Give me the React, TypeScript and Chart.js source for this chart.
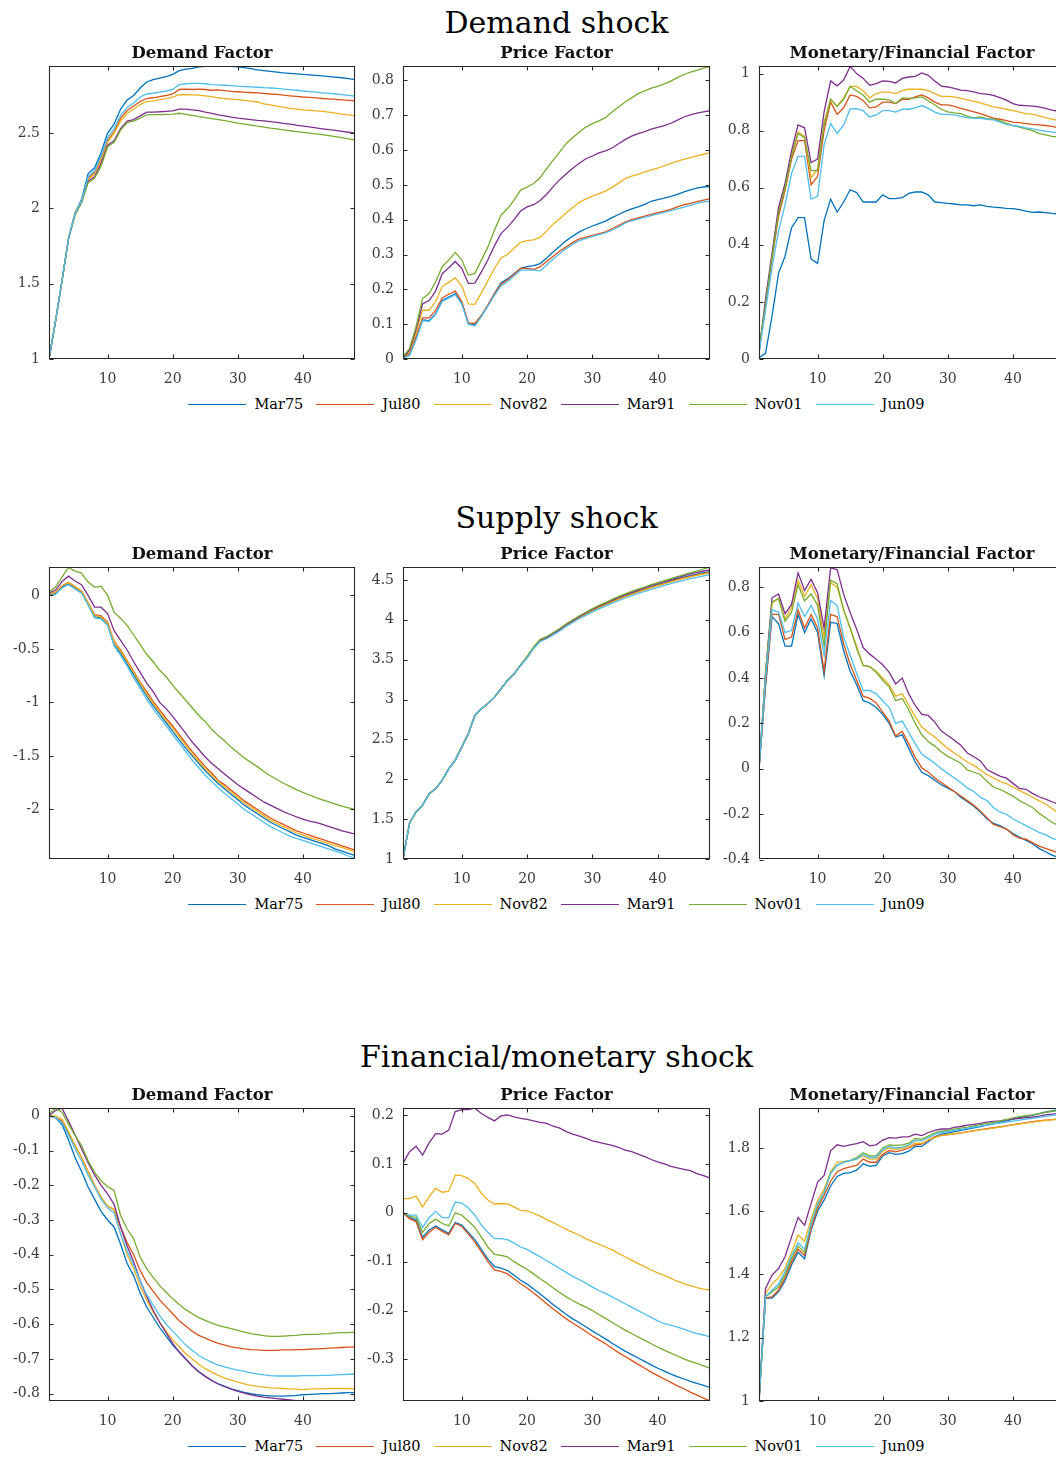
import React, { useEffect, useRef } from "react";
import { Chart, registerables } from "chart.js";

Chart.register(...registerables);

// ---------------------------------------------------------------------------
// Data: impulse responses over a 48-month horizon, one list per episode.
// ---------------------------------------------------------------------------
const horizon: number[] = [
  1, 2, 3, 4, 5, 6, 7, 8, 9, 10, 11, 12, 13, 14, 15, 16, 17, 18, 19, 20, 21, 22, 23, 24,
  25, 26, 27, 28, 29, 30, 31, 32, 33, 34, 35, 36, 37, 38, 39, 40, 41, 42, 43, 44, 45, 46, 47, 48,
];

const episodes = ["Mar75", "Jul80", "Nov82", "Mar91", "Nov01", "Jun09"];
const episodeColors = ["#0072BD", "#D95319", "#EDB120", "#7E2F8E", "#77AC30", "#4DBEEE"];

const xTicks = [10, 20, 30, 40];

// Demand shock -> Demand factor (Mar75, Jul80, Nov82, Mar91, Nov01, Jun09)
const demandShockDemand: number[][] = [
  [1.0, 1.25, 1.52, 1.8, 1.97, 2.06, 2.23, 2.27, 2.37, 2.5, 2.56, 2.66,
   2.72, 2.75, 2.8, 2.84, 2.855, 2.865, 2.875, 2.89, 2.915, 2.925, 2.93, 2.94,
   2.944, 2.945, 2.945, 2.944, 2.943, 2.94, 2.935, 2.928, 2.92, 2.915, 2.91, 2.905,
   2.9, 2.897, 2.894, 2.89, 2.887, 2.884, 2.88, 2.876, 2.872, 2.868, 2.862, 2.856],
  [1.0, 1.25, 1.52, 1.8, 1.97, 2.05, 2.2, 2.24, 2.33, 2.45, 2.51, 2.6,
   2.65, 2.68, 2.71, 2.73, 2.735, 2.742, 2.75, 2.76, 2.79, 2.792, 2.79, 2.792,
   2.79, 2.785, 2.787, 2.782, 2.778, 2.775, 2.772, 2.77, 2.767, 2.764, 2.76, 2.757,
   2.752, 2.748, 2.744, 2.74, 2.737, 2.734, 2.73, 2.727, 2.724, 2.721, 2.718, 2.715],
  [1.0, 1.25, 1.52, 1.8, 1.97, 2.05, 2.19, 2.23, 2.32, 2.44, 2.5, 2.58,
   2.63, 2.66, 2.69, 2.71, 2.715, 2.722, 2.73, 2.74, 2.755, 2.755, 2.754, 2.752,
   2.748, 2.742, 2.735, 2.73, 2.726, 2.722, 2.718, 2.713, 2.707, 2.695, 2.688, 2.68,
   2.673, 2.665, 2.66, 2.655, 2.652, 2.648, 2.645, 2.64, 2.633, 2.627, 2.621, 2.615],
  [1.0, 1.25, 1.52, 1.8, 1.96, 2.04, 2.18, 2.21, 2.3, 2.42, 2.45, 2.53,
   2.58, 2.59, 2.615, 2.64, 2.64, 2.642, 2.645, 2.648, 2.66, 2.66, 2.655, 2.65,
   2.64, 2.632, 2.622, 2.615, 2.607, 2.6, 2.595, 2.59, 2.585, 2.581, 2.577, 2.571,
   2.565, 2.56, 2.553, 2.547, 2.541, 2.535, 2.529, 2.523, 2.518, 2.512, 2.506, 2.5],
  [1.0, 1.25, 1.52, 1.8, 1.96, 2.04, 2.17, 2.2, 2.28, 2.41, 2.44, 2.52,
   2.57, 2.58, 2.6, 2.622, 2.623, 2.623, 2.625, 2.627, 2.632, 2.625, 2.618, 2.61,
   2.603, 2.597, 2.59, 2.583, 2.575, 2.567, 2.56, 2.553, 2.546, 2.54, 2.533, 2.528,
   2.522, 2.516, 2.51, 2.505, 2.5, 2.495, 2.49, 2.484, 2.477, 2.47, 2.462, 2.455],
  [1.0, 1.25, 1.52, 1.8, 1.97, 2.05, 2.21, 2.25, 2.35, 2.47, 2.53, 2.62,
   2.67, 2.7, 2.74, 2.76, 2.765, 2.772, 2.78, 2.79, 2.822, 2.828, 2.83, 2.83,
   2.828, 2.822, 2.82, 2.818, 2.815, 2.812, 2.81, 2.808, 2.805, 2.802, 2.8, 2.797,
   2.793, 2.789, 2.785, 2.78, 2.776, 2.772, 2.768, 2.764, 2.76, 2.756, 2.751, 2.746],
];

// Demand shock -> Price factor
const demandShockPrice: number[][] = [
  [0.003, 0.012, 0.06, 0.112, 0.11, 0.13, 0.168, 0.178, 0.188, 0.16, 0.102, 0.098,
   0.125, 0.155, 0.188, 0.218, 0.23, 0.245, 0.26, 0.265, 0.268, 0.274, 0.29, 0.308,
   0.324, 0.34, 0.353, 0.365, 0.374, 0.382, 0.389, 0.396, 0.406, 0.415, 0.424, 0.431,
   0.437, 0.444, 0.453, 0.458, 0.462, 0.467, 0.473, 0.48, 0.486, 0.491, 0.494, 0.495],
  [0.005, 0.015, 0.065, 0.118, 0.118, 0.14, 0.175, 0.186, 0.195, 0.165, 0.104, 0.102,
   0.125, 0.155, 0.187, 0.215, 0.227, 0.243, 0.26, 0.26, 0.257, 0.265, 0.28, 0.295,
   0.31, 0.322, 0.335, 0.345, 0.35, 0.355, 0.36, 0.365, 0.374, 0.383, 0.393, 0.4,
   0.405, 0.41, 0.415, 0.42, 0.425, 0.43, 0.437, 0.443, 0.447, 0.452, 0.456, 0.46],
  [0.005, 0.02, 0.075, 0.14, 0.14, 0.165, 0.208, 0.22, 0.233, 0.21, 0.158, 0.157,
   0.19, 0.225, 0.26, 0.29, 0.3, 0.318, 0.335, 0.34, 0.342, 0.35, 0.368, 0.388,
   0.403, 0.42, 0.435, 0.45, 0.46, 0.468, 0.475, 0.482, 0.493, 0.505, 0.518, 0.525,
   0.53, 0.537, 0.543, 0.548, 0.555, 0.562, 0.568, 0.573, 0.578, 0.583, 0.588, 0.592],
  [0.005, 0.025, 0.085, 0.158, 0.168, 0.195, 0.245, 0.262, 0.28, 0.26, 0.217, 0.218,
   0.25, 0.285, 0.325, 0.36, 0.378, 0.4, 0.425, 0.437, 0.443, 0.455, 0.473, 0.495,
   0.515, 0.532, 0.548, 0.562, 0.575, 0.583, 0.592, 0.598, 0.606, 0.618, 0.63, 0.64,
   0.647, 0.653, 0.66, 0.665, 0.67, 0.677, 0.686, 0.695, 0.701, 0.706, 0.71, 0.713],
  [0.007, 0.03, 0.093, 0.174, 0.188, 0.222, 0.265, 0.284, 0.306, 0.284, 0.241, 0.246,
   0.284, 0.322, 0.37, 0.413, 0.432, 0.456, 0.485, 0.494, 0.504, 0.521, 0.547, 0.571,
   0.595, 0.619, 0.636, 0.652, 0.666, 0.676, 0.684, 0.693, 0.709, 0.724, 0.738, 0.75,
   0.762, 0.77, 0.778, 0.783, 0.79, 0.798, 0.808, 0.817, 0.824, 0.829, 0.835, 0.84],
  [0.002, 0.01, 0.055, 0.11, 0.108, 0.128, 0.165, 0.175, 0.185, 0.158, 0.1, 0.095,
   0.122, 0.152, 0.183, 0.21, 0.222, 0.238, 0.255, 0.255, 0.255, 0.253, 0.27, 0.287,
   0.303, 0.317, 0.33, 0.34, 0.346, 0.352, 0.357, 0.362, 0.37, 0.379, 0.39, 0.397,
   0.402, 0.407, 0.412, 0.417, 0.421, 0.426, 0.431, 0.436, 0.441, 0.447, 0.451, 0.453],
];

// Demand shock -> Monetary/Financial factor
const demandShockMonetary: number[][] = [
  [0.005, 0.02, 0.15, 0.3, 0.36, 0.46, 0.495, 0.495, 0.35, 0.335, 0.485, 0.56,
   0.515, 0.55, 0.593, 0.583, 0.55, 0.55, 0.55, 0.575, 0.562, 0.562, 0.565, 0.58,
   0.585, 0.585, 0.575, 0.55, 0.548, 0.545, 0.543, 0.54, 0.54, 0.537, 0.54, 0.535,
   0.532, 0.53, 0.528, 0.527, 0.523, 0.518, 0.514, 0.515, 0.513, 0.51, 0.508, 0.506],
  [0.03, 0.19, 0.35, 0.5, 0.59, 0.7, 0.765, 0.765, 0.61, 0.64, 0.8, 0.9,
   0.857, 0.88, 0.925, 0.92, 0.905, 0.88, 0.883, 0.9, 0.9, 0.895, 0.91, 0.91,
   0.918, 0.925, 0.915, 0.9, 0.89, 0.89, 0.885, 0.878, 0.872, 0.866, 0.86, 0.852,
   0.844, 0.84, 0.835, 0.83, 0.828, 0.825, 0.822, 0.82, 0.818, 0.815, 0.81, 0.806],
  [0.03, 0.2, 0.36, 0.52, 0.6, 0.715, 0.795, 0.78, 0.635, 0.665, 0.83, 0.91,
   0.885, 0.915, 0.955, 0.955, 0.94, 0.915, 0.93, 0.935, 0.935, 0.93, 0.94, 0.945,
   0.945, 0.945, 0.94, 0.93, 0.92, 0.92, 0.918, 0.913, 0.908, 0.903, 0.897, 0.89,
   0.883, 0.88, 0.875, 0.87, 0.865, 0.86, 0.858, 0.852, 0.846, 0.84, 0.835, 0.83],
  [0.02, 0.21, 0.37, 0.53, 0.615, 0.73, 0.82, 0.81, 0.688, 0.7, 0.866, 0.974,
   0.957, 0.977, 1.025, 1.0, 0.983, 0.959, 0.965, 0.974, 0.973, 0.967, 0.983, 0.988,
   0.99, 1.002, 0.994, 0.974, 0.956, 0.953, 0.948, 0.942, 0.94, 0.936, 0.93, 0.928,
   0.924, 0.916, 0.907, 0.895, 0.889, 0.888, 0.886, 0.883, 0.878, 0.872, 0.868, 0.864],
  [0.03, 0.19, 0.36, 0.51, 0.6, 0.71, 0.79, 0.775, 0.66, 0.66, 0.82, 0.91,
   0.885, 0.91, 0.955, 0.94, 0.925, 0.9, 0.91, 0.91, 0.908, 0.895, 0.915, 0.913,
   0.915, 0.918, 0.905, 0.89, 0.875, 0.866, 0.862, 0.86, 0.85, 0.845, 0.848, 0.842,
   0.84, 0.835, 0.826, 0.818, 0.812, 0.806, 0.8, 0.79, 0.785, 0.78, 0.777, 0.774],
  [0.02, 0.17, 0.32, 0.45, 0.54, 0.65, 0.71, 0.71, 0.56, 0.57, 0.75, 0.825,
   0.79, 0.82, 0.876, 0.877, 0.87, 0.848, 0.855, 0.87, 0.87, 0.865, 0.875, 0.875,
   0.88, 0.888, 0.878, 0.865, 0.857, 0.857, 0.855, 0.85, 0.846, 0.843, 0.843, 0.84,
   0.838, 0.83, 0.822, 0.818, 0.815, 0.81, 0.806, 0.802, 0.798, 0.795, 0.792, 0.788],
];

// Supply shock -> Demand factor
const supplyShockDemand: number[][] = [
  [0.0, 0.02, 0.08, 0.11, 0.07, 0.03, -0.08, -0.2, -0.21, -0.27, -0.46, -0.54,
   -0.64, -0.74, -0.84, -0.94, -1.03, -1.11, -1.19, -1.27, -1.35, -1.43, -1.5, -1.57,
   -1.64, -1.7, -1.76, -1.81, -1.86, -1.91, -1.96, -2.0, -2.04, -2.08, -2.12, -2.15,
   -2.18, -2.21, -2.24, -2.26, -2.28, -2.3, -2.32, -2.34, -2.37, -2.39, -2.41, -2.43],
  [0.01, 0.03, 0.09, 0.12, 0.08, 0.04, -0.07, -0.18, -0.19, -0.25, -0.43, -0.51,
   -0.61, -0.71, -0.81, -0.9, -0.99, -1.07, -1.15, -1.22, -1.3, -1.38, -1.46, -1.53,
   -1.6, -1.66, -1.73, -1.77, -1.82, -1.87, -1.92, -1.96, -2.0, -2.04, -2.08, -2.11,
   -2.14, -2.17, -2.2, -2.22, -2.24, -2.26, -2.28, -2.3, -2.32, -2.34, -2.36, -2.38],
  [0.01, 0.03, 0.09, 0.12, 0.08, 0.04, -0.07, -0.19, -0.2, -0.26, -0.44, -0.52,
   -0.62, -0.72, -0.82, -0.92, -1.01, -1.09, -1.17, -1.24, -1.32, -1.4, -1.48, -1.55,
   -1.62, -1.68, -1.74, -1.79, -1.84, -1.89, -1.94, -1.98, -2.02, -2.06, -2.1, -2.13,
   -2.16, -2.19, -2.22, -2.24, -2.26, -2.28, -2.3, -2.32, -2.34, -2.355, -2.375, -2.395],
  [0.02, 0.05, 0.13, 0.18, 0.135, 0.1, 0.0, -0.11, -0.11, -0.17, -0.33, -0.42,
   -0.51, -0.62, -0.72, -0.82, -0.9, -1.0, -1.06, -1.13, -1.21, -1.29, -1.37, -1.44,
   -1.51, -1.57, -1.62, -1.67, -1.72, -1.77, -1.81, -1.85, -1.89, -1.93, -1.96, -1.99,
   -2.02, -2.045, -2.07, -2.09, -2.11, -2.12, -2.14, -2.16, -2.18, -2.2, -2.215, -2.23],
  [0.03, 0.078, 0.17, 0.262, 0.227, 0.208, 0.124, 0.078, 0.084, 0.0, -0.156, -0.215,
   -0.28, -0.37, -0.46, -0.55, -0.62, -0.7, -0.76, -0.84, -0.91, -0.98, -1.05, -1.12,
   -1.18, -1.25, -1.31, -1.36, -1.42, -1.47, -1.52, -1.56, -1.6, -1.645, -1.685, -1.72,
   -1.755, -1.785, -1.815, -1.84, -1.865, -1.89, -1.91, -1.93, -1.95, -1.97, -1.985, -2.0],
  [0.0, 0.01, 0.07, 0.1, 0.06, 0.02, -0.09, -0.21, -0.22, -0.28, -0.47, -0.56,
   -0.66, -0.77, -0.87, -0.97, -1.06, -1.14, -1.22, -1.3, -1.38, -1.46, -1.54, -1.61,
   -1.68, -1.74, -1.8, -1.85, -1.9, -1.95, -2.0, -2.04, -2.08, -2.12, -2.16, -2.19,
   -2.22, -2.25, -2.27, -2.29, -2.31, -2.33, -2.35, -2.37, -2.39, -2.41, -2.435, -2.455],
];

// Supply shock -> Price factor
const supplyShockPrice: number[][] = [
  [1.0, 1.45, 1.59, 1.675, 1.82, 1.88, 1.99, 2.13, 2.24, 2.405, 2.57, 2.8,
   2.885, 2.95, 3.03, 3.135, 3.24, 3.32, 3.43, 3.53, 3.65, 3.74, 3.775, 3.825,
   3.875, 3.935, 3.985, 4.033, 4.078, 4.122, 4.162, 4.197, 4.235, 4.27, 4.303, 4.333,
   4.362, 4.388, 4.417, 4.442, 4.467, 4.49, 4.513, 4.535, 4.555, 4.573, 4.59, 4.605],
  [1.0, 1.45, 1.59, 1.675, 1.82, 1.88, 1.99, 2.13, 2.24, 2.405, 2.57, 2.8,
   2.885, 2.95, 3.03, 3.135, 3.24, 3.32, 3.43, 3.53, 3.648, 3.738, 3.772, 3.822,
   3.872, 3.93, 3.98, 4.028, 4.072, 4.116, 4.155, 4.19, 4.228, 4.262, 4.295, 4.325,
   4.354, 4.38, 4.408, 4.433, 4.457, 4.48, 4.503, 4.525, 4.545, 4.563, 4.58, 4.595],
  [1.0, 1.45, 1.59, 1.675, 1.82, 1.88, 1.99, 2.13, 2.24, 2.405, 2.57, 2.8,
   2.885, 2.95, 3.03, 3.135, 3.24, 3.32, 3.43, 3.528, 3.645, 3.735, 3.77, 3.818,
   3.868, 3.927, 3.976, 4.024, 4.068, 4.111, 4.15, 4.185, 4.222, 4.256, 4.289, 4.319,
   4.348, 4.374, 4.402, 4.427, 4.451, 4.474, 4.497, 4.519, 4.539, 4.557, 4.574, 4.59],
  [1.0, 1.45, 1.59, 1.675, 1.82, 1.88, 1.99, 2.13, 2.24, 2.405, 2.57, 2.8,
   2.885, 2.95, 3.03, 3.135, 3.24, 3.32, 3.43, 3.535, 3.655, 3.745, 3.78, 3.83,
   3.88, 3.94, 3.99, 4.04, 4.085, 4.13, 4.17, 4.205, 4.245, 4.28, 4.315, 4.345,
   4.375, 4.4, 4.43, 4.455, 4.48, 4.505, 4.53, 4.555, 4.575, 4.595, 4.61, 4.625],
  [1.0, 1.45, 1.59, 1.675, 1.82, 1.88, 1.99, 2.13, 2.24, 2.405, 2.57, 2.8,
   2.885, 2.95, 3.03, 3.135, 3.24, 3.32, 3.43, 3.54, 3.66, 3.755, 3.79, 3.84,
   3.89, 3.95, 4.0, 4.05, 4.095, 4.14, 4.18, 4.215, 4.255, 4.29, 4.325, 4.355,
   4.385, 4.41, 4.44, 4.465, 4.49, 4.515, 4.54, 4.565, 4.59, 4.61, 4.635, 4.66],
  [1.0, 1.45, 1.59, 1.675, 1.82, 1.88, 1.99, 2.13, 2.24, 2.405, 2.57, 2.8,
   2.885, 2.95, 3.03, 3.135, 3.24, 3.32, 3.43, 3.52, 3.64, 3.728, 3.762, 3.81,
   3.86, 3.918, 3.966, 4.013, 4.056, 4.099, 4.137, 4.171, 4.208, 4.241, 4.273, 4.302,
   4.33, 4.355, 4.382, 4.406, 4.43, 4.452, 4.474, 4.495, 4.515, 4.533, 4.55, 4.565],
];

// Supply shock -> Monetary/Financial factor
const supplyShockMonetary: number[][] = [
  [0.0, 0.36, 0.67, 0.64, 0.54, 0.54, 0.68, 0.6, 0.66, 0.6, 0.41, 0.645,
   0.64, 0.52, 0.43, 0.37, 0.3, 0.29, 0.27, 0.24, 0.2, 0.14, 0.15, 0.09,
   0.03, -0.015, -0.03, -0.05, -0.07, -0.085, -0.1, -0.125, -0.145, -0.165, -0.19, -0.22,
   -0.24, -0.25, -0.265, -0.285, -0.3, -0.315, -0.33, -0.35, -0.365, -0.38, -0.39, -0.395],
  [0.0, 0.37, 0.68, 0.68, 0.57, 0.58, 0.7, 0.62, 0.68, 0.62, 0.43, 0.68,
   0.67, 0.55, 0.46, 0.39, 0.32, 0.31, 0.29, 0.25, 0.21, 0.145, 0.165, 0.11,
   0.05, 0.005, -0.015, -0.04, -0.06, -0.08, -0.1, -0.12, -0.14, -0.16, -0.185, -0.215,
   -0.245, -0.255, -0.265, -0.29, -0.305, -0.31, -0.325, -0.34, -0.35, -0.36, -0.37, -0.38],
  [0.0, 0.42, 0.73, 0.75, 0.66, 0.71, 0.83, 0.76, 0.81, 0.75, 0.58, 0.82,
   0.8, 0.7, 0.62, 0.54, 0.455, 0.45, 0.43, 0.4, 0.37, 0.32, 0.33, 0.28,
   0.23, 0.185, 0.16, 0.14, 0.115, 0.09, 0.07, 0.05, 0.03, 0.015, -0.005, -0.025,
   -0.04, -0.055, -0.065, -0.08, -0.095, -0.11, -0.125, -0.14, -0.155, -0.175, -0.195, -0.215],
  [0.0, 0.42, 0.753, 0.77, 0.683, 0.724, 0.863, 0.785, 0.834, 0.775, 0.62, 0.885,
   0.877, 0.768, 0.688, 0.615, 0.534, 0.505, 0.483, 0.458, 0.425, 0.374, 0.4, 0.33,
   0.279, 0.24, 0.235, 0.206, 0.166, 0.147, 0.126, 0.104, 0.07, 0.053, 0.035, -0.003,
   -0.018, -0.032, -0.041, -0.064, -0.086, -0.09, -0.108, -0.123, -0.133, -0.145, -0.155, -0.165],
  [0.0, 0.42, 0.735, 0.75, 0.65, 0.69, 0.81, 0.74, 0.77, 0.72, 0.54, 0.83,
   0.815, 0.7, 0.62, 0.53, 0.455, 0.45, 0.425, 0.39, 0.36, 0.3, 0.31, 0.26,
   0.2, 0.15, 0.12, 0.1, 0.075, 0.055, 0.04, 0.025, -0.005, -0.015, -0.025, -0.055,
   -0.08, -0.09, -0.105, -0.12, -0.14, -0.155, -0.17, -0.195, -0.215, -0.235, -0.25, -0.262],
  [0.0, 0.4, 0.7, 0.69, 0.6, 0.61, 0.73, 0.67, 0.72, 0.66, 0.5, 0.74,
   0.72, 0.58, 0.5, 0.42, 0.345, 0.345, 0.33, 0.3, 0.27, 0.2, 0.21, 0.16,
   0.11, 0.065, 0.045, 0.025, 0.0, -0.02, -0.04, -0.06, -0.085, -0.1, -0.125, -0.14,
   -0.17, -0.19, -0.2, -0.22, -0.235, -0.25, -0.265, -0.28, -0.29, -0.305, -0.315, -0.325],
];

// Financial/monetary shock -> Demand factor
const financialShockDemand: number[][] = [
  [0.0, -0.005, -0.025, -0.07, -0.12, -0.16, -0.205, -0.24, -0.275, -0.3, -0.32, -0.37,
   -0.425, -0.46, -0.51, -0.55, -0.58, -0.61, -0.635, -0.66, -0.68, -0.7, -0.72, -0.737,
   -0.75, -0.762, -0.772, -0.779, -0.786, -0.791, -0.796, -0.8, -0.803, -0.805, -0.806, -0.807,
   -0.807, -0.806, -0.805, -0.803, -0.802, -0.801, -0.8, -0.8, -0.799, -0.798, -0.797, -0.797],
  [0.0, -0.005, -0.015, -0.05, -0.085, -0.12, -0.16, -0.2, -0.235, -0.26, -0.27, -0.32,
   -0.365, -0.4, -0.445, -0.48, -0.505, -0.53, -0.55, -0.57, -0.59, -0.605, -0.62, -0.632,
   -0.64, -0.648, -0.655, -0.66, -0.665, -0.668, -0.671, -0.673, -0.674, -0.675, -0.675, -0.675,
   -0.674, -0.674, -0.673, -0.673, -0.672, -0.671, -0.67, -0.669, -0.668, -0.667, -0.666, -0.665],
  [0.0, 0.0, -0.01, -0.045, -0.085, -0.12, -0.16, -0.2, -0.235, -0.26, -0.27, -0.34,
   -0.4, -0.44, -0.49, -0.53, -0.565, -0.595, -0.62, -0.645, -0.665, -0.685, -0.7, -0.715,
   -0.728, -0.738, -0.747, -0.755, -0.761, -0.767, -0.772, -0.776, -0.779, -0.781, -0.783, -0.784,
   -0.785, -0.786, -0.787, -0.788, -0.787, -0.786, -0.786, -0.785, -0.785, -0.785, -0.785, -0.786],
  [0.0, 0.015, 0.022, -0.015, -0.055, -0.095, -0.135, -0.17, -0.2, -0.225, -0.255, -0.32,
   -0.375, -0.42, -0.475, -0.52, -0.56, -0.595, -0.625, -0.655, -0.68, -0.7, -0.72, -0.737,
   -0.75, -0.762, -0.772, -0.78, -0.787, -0.793, -0.798, -0.803, -0.807, -0.81, -0.812, -0.814,
   -0.816, -0.818, -0.82, -0.821, -0.821, -0.821, -0.821, -0.821, -0.821, -0.821, -0.821, -0.821],
  [0.005, 0.022, 0.01, -0.024, -0.057, -0.086, -0.129, -0.163, -0.187, -0.204, -0.215, -0.287,
   -0.326, -0.354, -0.407, -0.44, -0.465, -0.489, -0.508, -0.527, -0.543, -0.558, -0.57, -0.581,
   -0.589, -0.597, -0.603, -0.608, -0.613, -0.618, -0.623, -0.627, -0.63, -0.633, -0.635, -0.635,
   -0.634, -0.633, -0.632, -0.63, -0.629, -0.629, -0.628, -0.627, -0.625, -0.624, -0.624, -0.623],
  [0.0, -0.005, -0.02, -0.055, -0.095, -0.13, -0.17, -0.205, -0.24, -0.265, -0.28, -0.34,
   -0.39, -0.43, -0.475, -0.515, -0.545, -0.575, -0.6, -0.62, -0.64, -0.66, -0.675, -0.69,
   -0.7, -0.71, -0.718, -0.723, -0.728, -0.732, -0.736, -0.74, -0.743, -0.746, -0.748, -0.749,
   -0.749, -0.749, -0.749, -0.748, -0.748, -0.748, -0.747, -0.747, -0.746, -0.745, -0.744, -0.743],
];

// Financial/monetary shock -> Price factor
const financialShockPrice: number[][] = [
  [0.0, -0.01, -0.015, -0.05, -0.035, -0.027, -0.035, -0.042, -0.02, -0.025, -0.04, -0.055,
   -0.075, -0.095, -0.11, -0.113, -0.118, -0.128, -0.138, -0.146, -0.156, -0.166, -0.177, -0.188,
   -0.198, -0.208, -0.217, -0.225, -0.233, -0.242, -0.25, -0.258, -0.267, -0.275, -0.283, -0.29,
   -0.297, -0.304, -0.311, -0.318, -0.324, -0.33, -0.335, -0.34, -0.345, -0.349, -0.353, -0.357],
  [0.0, -0.012, -0.018, -0.055, -0.04, -0.03, -0.038, -0.045, -0.022, -0.028, -0.043, -0.06,
   -0.08, -0.1, -0.117, -0.12, -0.125, -0.135, -0.145, -0.154, -0.164, -0.175, -0.186, -0.197,
   -0.207, -0.217, -0.226, -0.234, -0.243, -0.252, -0.26, -0.268, -0.277, -0.286, -0.294, -0.302,
   -0.31, -0.318, -0.326, -0.333, -0.34, -0.347, -0.354, -0.36, -0.367, -0.373, -0.379, -0.385],
  [0.029, 0.029, 0.034, 0.012, 0.033, 0.05, 0.042, 0.044, 0.077, 0.076, 0.07, 0.06,
   0.04, 0.026, 0.018, 0.019, 0.018, 0.012, 0.005, 0.004, -0.001, -0.007, -0.014, -0.02,
   -0.027, -0.034, -0.04, -0.046, -0.053, -0.059, -0.064, -0.07, -0.076, -0.083, -0.09, -0.097,
   -0.104, -0.11, -0.117, -0.123, -0.128, -0.134, -0.14, -0.145, -0.149, -0.153, -0.156, -0.158],
  [0.101, 0.125, 0.136, 0.118, 0.143, 0.162, 0.161, 0.169, 0.207, 0.211, 0.211, 0.214,
   0.203, 0.195, 0.188, 0.198, 0.2, 0.196, 0.193, 0.191, 0.188, 0.185, 0.183, 0.177,
   0.173, 0.166, 0.161, 0.157, 0.152, 0.147, 0.144, 0.141, 0.138, 0.134, 0.128, 0.125,
   0.12, 0.115, 0.109, 0.104, 0.1, 0.095, 0.092, 0.089, 0.086, 0.08, 0.076, 0.071],
  [0.0, -0.007, -0.01, -0.04, -0.022, -0.013, -0.022, -0.027, 0.0, -0.005, -0.017, -0.03,
   -0.05, -0.07, -0.085, -0.087, -0.09, -0.1, -0.108, -0.116, -0.125, -0.135, -0.144, -0.154,
   -0.163, -0.172, -0.18, -0.187, -0.193, -0.2, -0.208, -0.216, -0.224, -0.232, -0.24, -0.247,
   -0.254, -0.261, -0.268, -0.275, -0.281, -0.287, -0.293, -0.299, -0.304, -0.308, -0.313, -0.318],
  [0.0, -0.005, -0.005, -0.03, -0.01, 0.003, -0.01, -0.01, 0.022, 0.02, 0.01, -0.005,
   -0.025, -0.04, -0.053, -0.053, -0.055, -0.062, -0.07, -0.075, -0.083, -0.09, -0.098, -0.106,
   -0.114, -0.122, -0.13, -0.137, -0.144, -0.152, -0.159, -0.165, -0.172, -0.179, -0.186, -0.193,
   -0.2, -0.207, -0.214, -0.221, -0.227, -0.23, -0.234, -0.238, -0.243, -0.247, -0.25, -0.254],
];

// Financial/monetary shock -> Monetary/Financial factor
const financialShockMonetary: number[][] = [
  [1.0, 1.325, 1.325, 1.345, 1.38, 1.43, 1.47, 1.45, 1.54, 1.6, 1.635, 1.68,
   1.71, 1.72, 1.722, 1.73, 1.75, 1.742, 1.745, 1.775, 1.785, 1.78, 1.782, 1.79,
   1.805, 1.805, 1.82, 1.835, 1.843, 1.848, 1.852, 1.856, 1.86, 1.864, 1.868, 1.872,
   1.876, 1.881, 1.886, 1.891, 1.896, 1.9, 1.904, 1.909, 1.913, 1.917, 1.921, 1.925],
  [1.0, 1.325, 1.33, 1.35, 1.39, 1.44, 1.48, 1.46, 1.545, 1.61, 1.65, 1.695,
   1.725, 1.735, 1.74, 1.745, 1.765, 1.755, 1.755, 1.78, 1.792, 1.788, 1.793, 1.8,
   1.81, 1.812, 1.825, 1.835, 1.84, 1.842, 1.845, 1.848, 1.851, 1.855, 1.858, 1.861,
   1.864, 1.867, 1.87, 1.874, 1.877, 1.88, 1.883, 1.886, 1.888, 1.89, 1.892, 1.894],
  [1.0, 1.34, 1.37, 1.39, 1.42, 1.47, 1.525, 1.505, 1.575, 1.635, 1.67, 1.725,
   1.755, 1.758, 1.76, 1.765, 1.775, 1.765, 1.765, 1.79, 1.8, 1.795, 1.8, 1.805,
   1.815, 1.815, 1.825, 1.833, 1.84, 1.842, 1.845, 1.848, 1.851, 1.854, 1.857, 1.86,
   1.863, 1.866, 1.869, 1.873, 1.876, 1.879, 1.882, 1.885, 1.887, 1.889, 1.891, 1.893],
  [1.0, 1.356, 1.398, 1.419, 1.456, 1.519, 1.58, 1.556, 1.624, 1.692, 1.713, 1.791,
   1.81, 1.805, 1.81, 1.814, 1.82, 1.807, 1.81, 1.825, 1.833, 1.831, 1.835, 1.835,
   1.844, 1.839, 1.849, 1.856, 1.86, 1.86, 1.865, 1.868, 1.872, 1.875, 1.878, 1.882,
   1.884, 1.886, 1.889, 1.891, 1.894, 1.896, 1.898, 1.901, 1.905, 1.907, 1.909, 1.911],
  [1.0, 1.33, 1.345, 1.36, 1.4, 1.45, 1.49, 1.47, 1.56, 1.62, 1.66, 1.72,
   1.745, 1.755, 1.76, 1.77, 1.785, 1.775, 1.775, 1.8, 1.81, 1.808, 1.81, 1.815,
   1.83, 1.828, 1.838, 1.848, 1.853, 1.856, 1.86, 1.863, 1.866, 1.87, 1.874, 1.877,
   1.881, 1.885, 1.89, 1.895, 1.899, 1.902, 1.905, 1.909, 1.913, 1.916, 1.918, 1.92],
  [1.0, 1.33, 1.35, 1.37, 1.41, 1.46, 1.5, 1.48, 1.56, 1.625, 1.66, 1.72,
   1.745, 1.755, 1.76, 1.765, 1.78, 1.77, 1.77, 1.795, 1.805, 1.8, 1.803, 1.81,
   1.823, 1.823, 1.833, 1.843, 1.849, 1.852, 1.856, 1.859, 1.862, 1.866, 1.869, 1.872,
   1.876, 1.879, 1.882, 1.885, 1.888, 1.891, 1.894, 1.897, 1.9, 1.903, 1.905, 1.907],
];

// y-axis tick values per panel
const ticksDemandShockDemand = [1, 1.5, 2, 2.5];
const ticksDemandShockPrice = [0, 0.1, 0.2, 0.3, 0.4, 0.5, 0.6, 0.7, 0.8];
const ticksDemandShockMonetary = [0, 0.2, 0.4, 0.6, 0.8, 1];
const ticksSupplyShockDemand = [-2, -1.5, -1, -0.5, 0];
const ticksSupplyShockPrice = [1, 1.5, 2, 2.5, 3, 3.5, 4, 4.5];
const ticksSupplyShockMonetary = [-0.4, -0.2, 0, 0.2, 0.4, 0.6, 0.8];
const ticksFinancialShockDemand = [-0.8, -0.7, -0.6, -0.5, -0.4, -0.3, -0.2, -0.1, 0];
const ticksFinancialShockPrice = [-0.3, -0.2, -0.1, 0, 0.1, 0.2];
const ticksFinancialShockMonetary = [1, 1.2, 1.4, 1.6, 1.8];

const factorTitles = ["Demand Factor", "Price Factor", "Monetary/Financial Factor"];
const shockTitles = ["Demand shock", "Supply shock", "Financial/monetary shock"];

// ---------------------------------------------------------------------------
// Layout (page pixels)
// ---------------------------------------------------------------------------
const SERIF = "'DejaVu Serif', 'Liberation Serif', serif";
const Y_AXIS_W = 45;
const X_AXIS_H = 32;
const TITLE_H = 26;
const PAD_R = 6;
const CENTER_X = 556.5;

const columns = [
  { left: 49, right: 355 },
  { left: 403, right: 710 },
  { left: 759, right: 1065 },
];

const rows = [
  { top: 66, bottom: 359, headingTop: 8 },
  { top: 567, bottom: 859, headingTop: 503 },
  { top: 1108, bottom: 1401, headingTop: 1042 },
];

type PanelSpec = { series: number[][]; yMin: number; yMax: number; yTicks: number[] };

const panelGrid: PanelSpec[][] = [
  [
    { series: demandShockDemand, yMin: 1, yMax: 2.945, yTicks: ticksDemandShockDemand },
    { series: demandShockPrice, yMin: 0, yMax: 0.841, yTicks: ticksDemandShockPrice },
    { series: demandShockMonetary, yMin: 0, yMax: 1.026, yTicks: ticksDemandShockMonetary },
  ],
  [
    { series: supplyShockDemand, yMin: -2.463, yMax: 0.264, yTicks: ticksSupplyShockDemand },
    { series: supplyShockPrice, yMin: 1, yMax: 4.66, yTicks: ticksSupplyShockPrice },
    { series: supplyShockMonetary, yMin: -0.397, yMax: 0.888, yTicks: ticksSupplyShockMonetary },
  ],
  [
    { series: financialShockDemand, yMin: -0.821, yMax: 0.022, yTicks: ticksFinancialShockDemand },
    { series: financialShockPrice, yMin: -0.385, yMax: 0.214, yTicks: ticksFinancialShockPrice },
    { series: financialShockMonetary, yMin: 1, yMax: 1.926, yTicks: ticksFinancialShockMonetary },
  ],
];

// Box around the plot area with short inward tick marks on all four sides
const boxPlugin = {
  id: "axesBox",
  afterDatasetsDraw(chart: any) {
    const { ctx, chartArea: a, scales } = chart;
    const len = 4;
    const l = Math.round(a.left) + 0.5;
    const r = Math.round(a.right) - 0.5;
    const t = Math.round(a.top) + 0.5;
    const b = Math.round(a.bottom) - 0.5;
    ctx.save();
    ctx.strokeStyle = "#262626";
    ctx.lineWidth = 1.1;
    ctx.beginPath();
    ctx.rect(l, t, r - l, b - t);
    for (const tick of scales.x.ticks) {
      const px = Math.round(scales.x.getPixelForValue(tick.value)) + 0.5;
      ctx.moveTo(px, b);
      ctx.lineTo(px, b - len);
      ctx.moveTo(px, t);
      ctx.lineTo(px, t + len);
    }
    for (const tick of scales.y.ticks) {
      const py = Math.round(scales.y.getPixelForValue(tick.value)) + 0.5;
      ctx.moveTo(l, py);
      ctx.lineTo(l + len, py);
      ctx.moveTo(r, py);
      ctx.lineTo(r - len, py);
    }
    ctx.stroke();
    ctx.restore();
  },
};

function Panel({
  left, top, width, height, title, spec,
}: { left: number; top: number; width: number; height: number; title: string; spec: PanelSpec }) {
  const ref = useRef<HTMLCanvasElement>(null);

  useEffect(() => {
    const chart = new Chart(ref.current as HTMLCanvasElement, {
      type: "line",
      data: {
        datasets: episodes.map((name, i) => ({
          label: name,
          data: horizon.map((h, k) => ({ x: h, y: spec.series[i][k] })),
          borderColor: episodeColors[i],
          backgroundColor: episodeColors[i],
          borderWidth: 1.3,
          pointRadius: 0,
          tension: 0,
          fill: false,
          order: episodes.length - 1 - i,
        })),
      },
      options: {
        responsive: false,
        animation: false,
        devicePixelRatio: 1,
        events: [],
        layout: { padding: { left: 0, right: PAD_R, top: 0, bottom: 0 }, autoPadding: false },
        plugins: {
          legend: { display: false },
          tooltip: { enabled: false },
          title: {
            display: true,
            text: title,
            fullSize: false,
            color: "#111",
            font: { family: SERIF, size: 16.5, weight: "bold", lineHeight: 1.1 },
            padding: { top: 5, bottom: 3 },
          },
        },
        scales: {
          x: {
            type: "linear",
            min: 1,
            max: 48,
            afterBuildTicks: (axis: any) => {
              axis.ticks = xTicks.map((value) => ({ value }));
            },
            afterFit: (axis: any) => {
              axis.height = X_AXIS_H;
            },
            grid: { display: false, drawTicks: false },
            border: { display: false },
            ticks: {
              autoSkip: false,
              maxRotation: 0,
              padding: 12,
              color: "#3a3a3a",
              font: { family: SERIF, size: 14 },
              callback: (v: any) => String(v),
            },
          },
          y: {
            type: "linear",
            min: spec.yMin,
            max: spec.yMax,
            afterBuildTicks: (axis: any) => {
              axis.ticks = spec.yTicks.map((value) => ({ value }));
            },
            afterFit: (axis: any) => {
              axis.width = Y_AXIS_W;
            },
            grid: { display: false, drawTicks: false },
            border: { display: false },
            ticks: {
              autoSkip: false,
              padding: 9,
              color: "#3a3a3a",
              font: { family: SERIF, size: 14 },
              callback: (v: any) => String(v),
            },
          },
        },
      } as any,
      plugins: [boxPlugin],
    });
    return () => chart.destroy();
  }, []);

  return (
    <canvas
      ref={ref}
      width={width}
      height={height}
      style={{ position: "absolute", left, top, width, height }}
    />
  );
}

function Legend({ top }: { top: number }) {
  return (
    <div
      style={{
        position: "absolute",
        left: CENTER_X - 450,
        width: 900,
        top,
        height: 18,
        display: "flex",
        justifyContent: "center",
        alignItems: "center",
        fontFamily: SERIF,
        fontSize: 14.5,
        color: "#000",
      }}
    >
      {episodes.map((name, i) => (
        <div key={name} style={{ display: "flex", alignItems: "center", marginRight: i < episodes.length - 1 ? 13 : 0 }}>
          <span style={{ display: "inline-block", width: 58, height: 0, borderTop: `1.5px solid ${episodeColors[i]}`, marginRight: 8 }} />
          <span style={{ lineHeight: "18px" }}>{name}</span>
        </div>
      ))}
    </div>
  );
}

export default function App() {
  return (
    <div
      style={{
        position: "absolute",
        left: 0,
        top: 0,
        width: 1056,
        height: 1457,
        overflow: "hidden",
        background: "#fff",
      }}
    >
      {rows.map((row, ri) => (
        <React.Fragment key={ri}>
          <div
            style={{
              position: "absolute",
              left: CENTER_X - 400,
              width: 800,
              top: row.headingTop,
              textAlign: "center",
              fontFamily: SERIF,
              fontSize: 30,
              lineHeight: "30px",
              color: "#000",
              whiteSpace: "nowrap",
            }}
          >
            {shockTitles[ri]}
          </div>
          {columns.map((col, ci) => (
            <Panel
              key={ci}
              left={col.left - Y_AXIS_W}
              top={row.top - TITLE_H}
              width={col.right - col.left + Y_AXIS_W + PAD_R}
              height={row.bottom - row.top + TITLE_H + X_AXIS_H}
              title={factorTitles[ci]}
              spec={panelGrid[ri][ci]}
            />
          ))}
          <Legend top={row.bottom + 45 - 9} />
        </React.Fragment>
      ))}
    </div>
  );
}
